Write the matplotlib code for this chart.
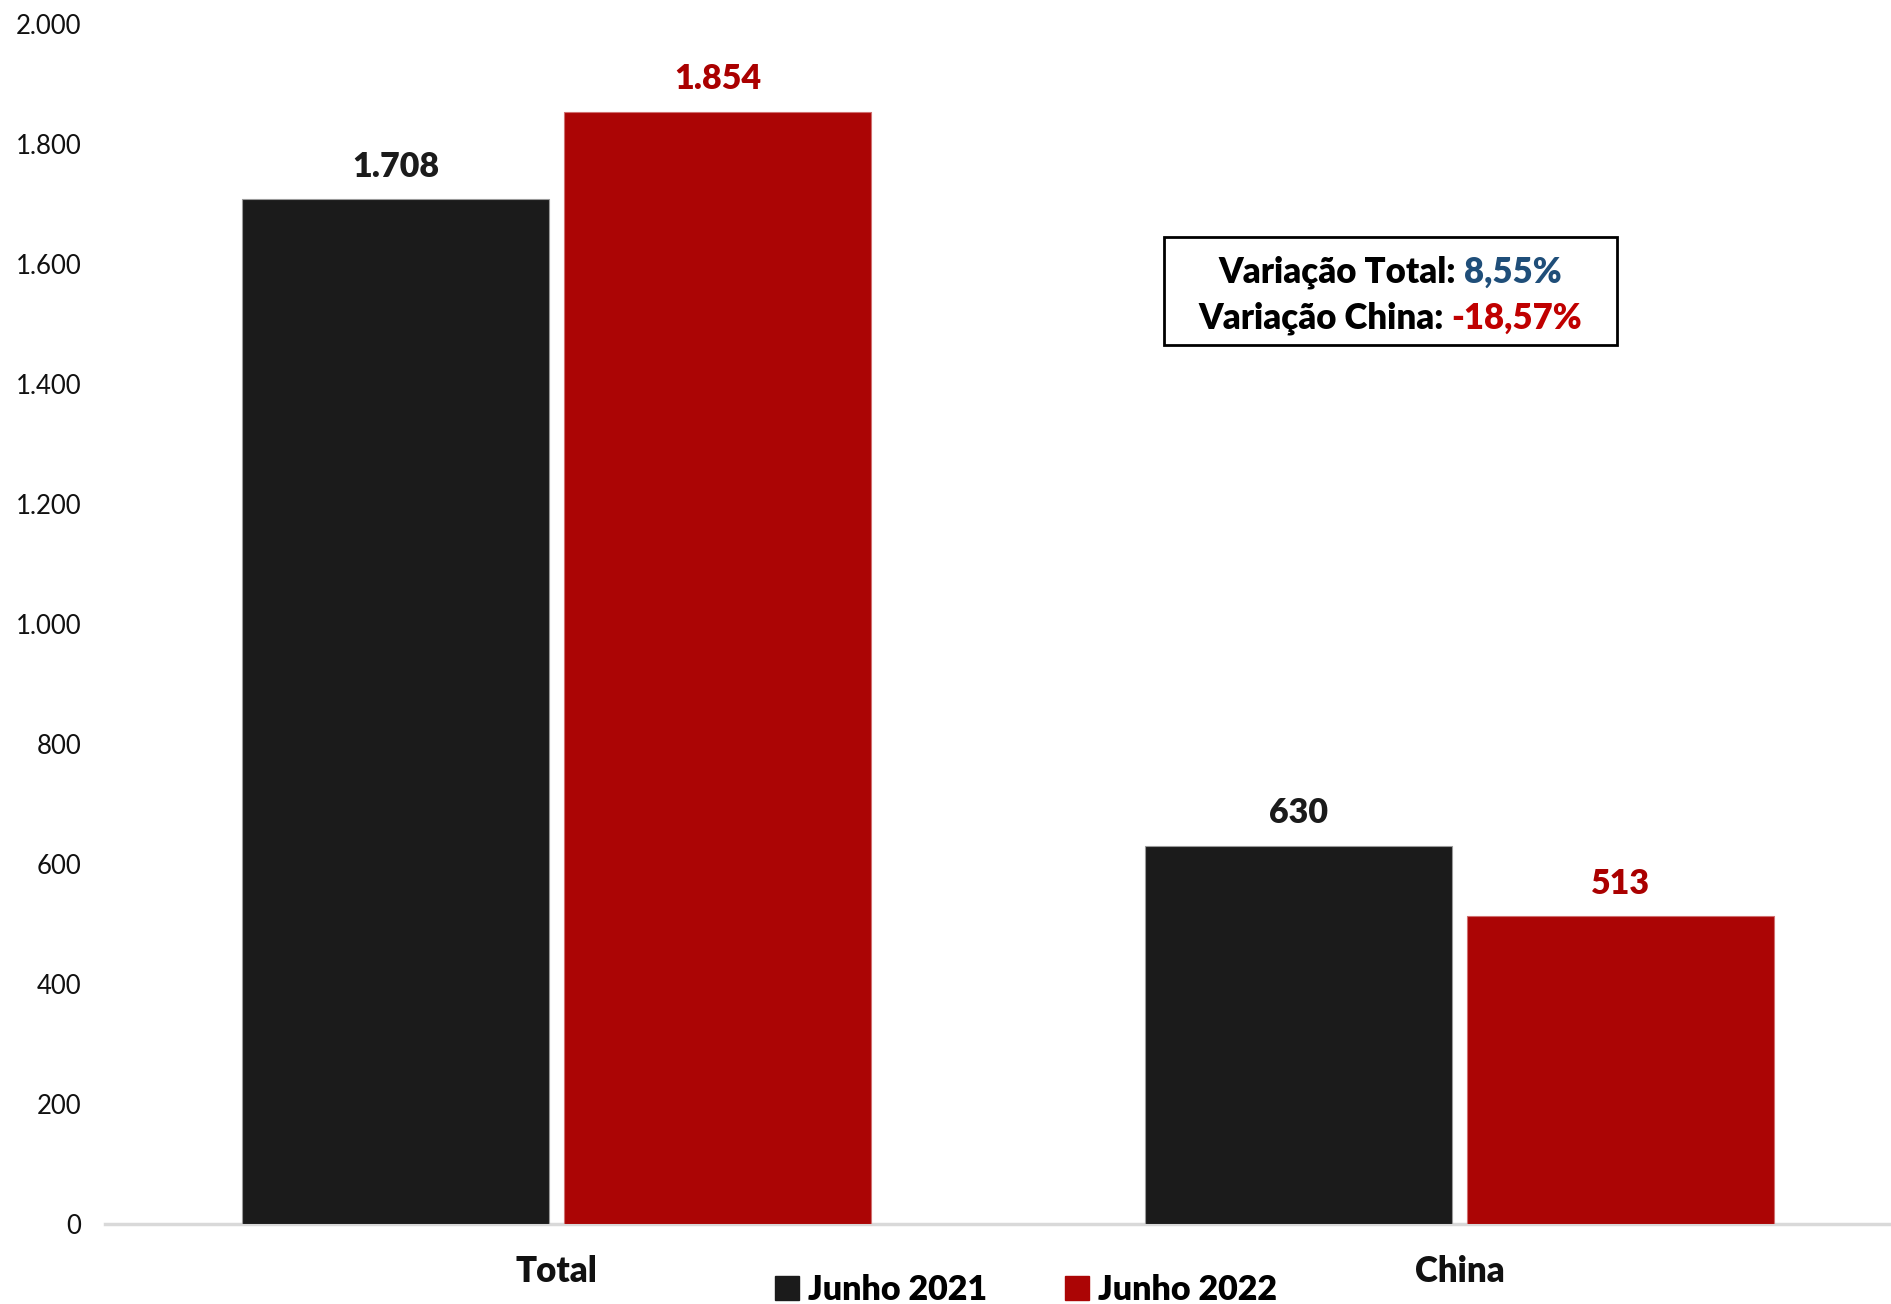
import matplotlib
matplotlib.use("Agg")
import matplotlib.pyplot as plt
from matplotlib.patches import Patch
import numpy as np

categories = ["Total", "China"]
series_names = ["Junho 2021", "Junho 2022"]
junho_2021 = [1708, 630]
junho_2022 = [1854, 513]
label_2021 = ["1.708", "630"]
label_2022 = ["1.854", "513"]
yticks = [0, 200, 400, 600, 800, 1000, 1200, 1400, 1600, 1800, 2000]
ytick_labels = ["0", "200", "400", "600", "800", "1.000", "1.200", "1.400", "1.600", "1.800", "2.000"]
var_total = "8,55%"
var_china = "-18,57%"

plt.rcParams['font.family'] = ['Lato', 'DejaVu Sans']

W, H = 1891, 1304
fig = plt.figure(figsize=(W / 100, H / 100), dpi=100)
ax = fig.add_axes([105 / W, (H - 1224) / H, 1806 / W, 1200 / H])

c_black = "#1b1b1b"
c_red = "#ab0505"
bw = 0.341
off = bw / 2 + 0.0078
x = np.arange(len(categories))

ax.bar(x - off, junho_2021, width=bw, color=c_black, edgecolor="#9a9a9a", linewidth=0.8, zorder=3)
ax.bar(x + off, junho_2022, width=bw, color=c_red, edgecolor="#d07070", linewidth=0.8, zorder=3)

for xi, v, t in zip(x - off, junho_2021, label_2021):
    ax.annotate(t, (xi, v), xytext=(0, 12), textcoords="offset points",
                ha="center", va="bottom", fontsize=24.5, fontweight="heavy", color=c_black)
for xi, v, t in zip(x + off, junho_2022, label_2022):
    ax.annotate(t, (xi, v), xytext=(0, 12), textcoords="offset points",
                ha="center", va="bottom", fontsize=24.5, fontweight="heavy", color="#aa0000")

ax.set_xlim(-0.5, 1.5)
ax.set_ylim(0, 2000)
ax.set_yticks(yticks)
ax.set_yticklabels(ytick_labels, fontsize=18.5, color="#111111")
ax.set_xticks(x)
ax.set_xticklabels(categories, fontsize=25, fontweight="heavy", color="#111111")
ax.tick_params(axis="y", length=0, pad=17)
ax.tick_params(axis="x", length=0, pad=22)
for s in ["top", "right", "left"]:
    ax.spines[s].set_visible(False)
ax.spines["bottom"].set_color("#d9d9d9")
ax.spines["bottom"].set_linewidth(2.5)

handles = [Patch(facecolor=c_black, edgecolor=c_black), Patch(facecolor=c_red, edgecolor=c_red)]
fig.legend(handles, series_names, loc="center", bbox_to_anchor=(1026 / W, 1 - 1290 / H),
           ncol=2, frameon=False, prop={"size": 24.5, "weight": "heavy"},
           handlelength=0.7, handleheight=0.7, handletextpad=0.25, columnspacing=2.3,
           borderpad=0, borderaxespad=0)

# annotation box
bx0, by0, bx1, by1 = 1164, 237, 1617, 345
fig.patches.append(plt.Rectangle((bx0 / W, 1 - by1 / H), (bx1 - bx0) / W, (by1 - by0) / H,
                                 transform=fig.transFigure, facecolor="white",
                                 edgecolor="black", linewidth=2, zorder=5))

fig.canvas.draw()
renderer = fig.canvas.get_renderer()
cx = 1390
lines = [("Variação Total: ", var_total, "#1f4e79", 272),
         ("Variação China: ", var_china, "#c00000", 318)]
for a, b, col, yc in lines:
    t1 = fig.text(0, 1 - yc / H, a, fontsize=25, fontweight="heavy", color="black",
                  ha="left", va="center", zorder=6)
    t2 = fig.text(0, 1 - yc / H, b, fontsize=25, fontweight="heavy", color=col,
                  ha="left", va="center", zorder=6)
    w1 = t1.get_window_extent(renderer).width
    w2 = t2.get_window_extent(renderer).width
    start = cx - (w1 + w2) / 2
    t1.set_x(start / W)
    t2.set_x((start + w1) / W)

fig.savefig("out.png", dpi=100)
